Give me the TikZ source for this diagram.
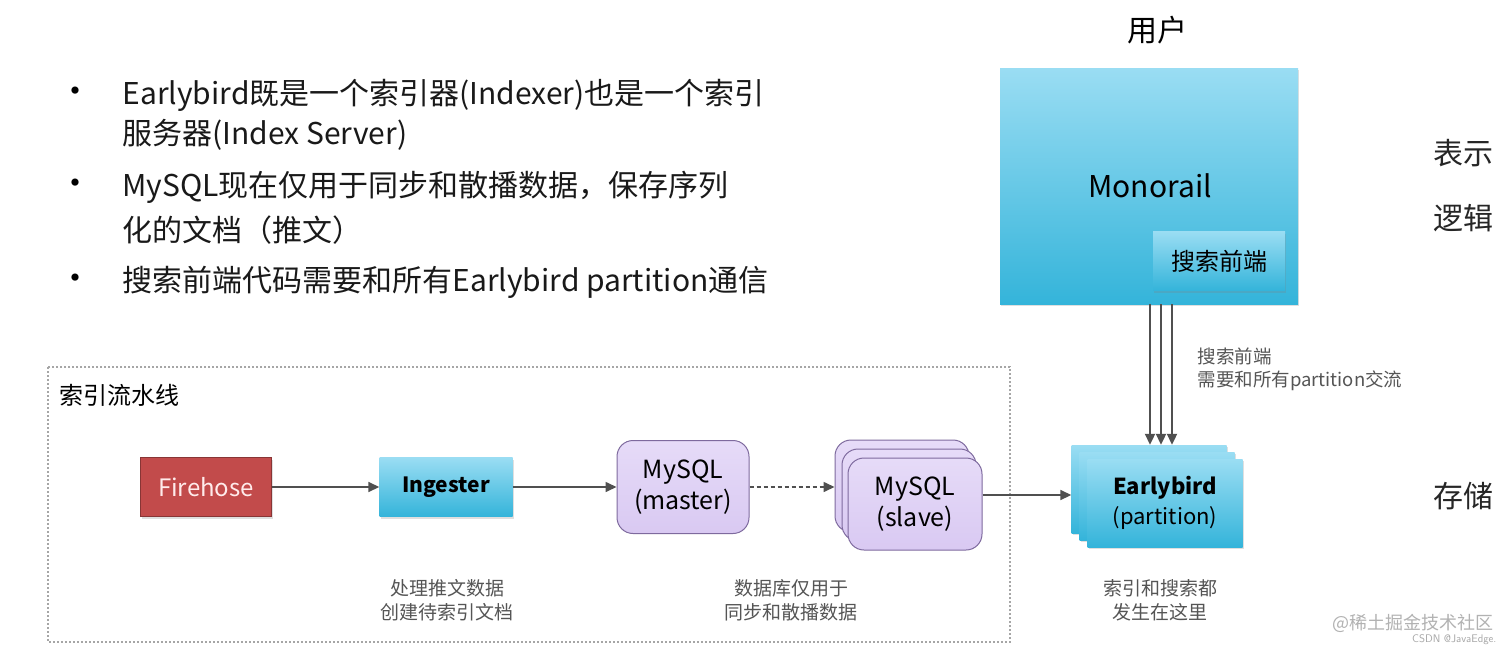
\documentclass[tikz,border=0pt]{standalone}
\usepackage{fontspec}
\setmainfont{Noto Sans CJK SC}
\usetikzlibrary{arrows.meta,shadows,positioning}
\definecolor{bluetop}{HTML}{9ADDF3}
\definecolor{bluebot}{HTML}{34B4DA}
\definecolor{firered}{HTML}{C24B4B}
\definecolor{lav}{HTML}{D9C9F2}
\definecolor{lavtop}{HTML}{E6DBF8}
\definecolor{lavedge}{HTML}{7E6A9E}
\definecolor{arrgray}{HTML}{505050}
\definecolor{capgray}{HTML}{555555}
\tikzset{
  fs/.style={font=\linespread{1.25}\fontsize{#1}{#1}\selectfont},
  bluebox/.style={draw=none, top color=bluetop, bottom color=bluebot, drop shadow={opacity=0.25,shadow xshift=1pt,shadow yshift=-2pt}},
  lavbox/.style={draw=lavedge, line width=1pt, rounded corners=16pt, top color=lavtop, bottom color=lav, align=center},
  flow/.style={draw=arrgray, line width=1.6pt, -{Triangle[length=11pt,width=10pt]}},
  caption/.style={fs=19, text=capgray, align=center},
  side/.style={fs=30, text=black!85},
  bullettext/.style={fs=30, anchor=west, text=black!90},
}
\begin{document}
\begin{tikzpicture}[x=1pt,y=-1pt]
\useasboundingbox (0,0) rectangle (1512,653);
\fill[white] (0,0) rectangle (1512,653);

% bullets
\foreach \yy/\nm in {95/d1,187/d2,282/d3} \node[fs=34] (\nm) at (75,\yy) {•};
\node[bullettext] (b1a) at (119,95) {Earlybird既是一个索引器(Indexer)也是一个索引};
\node[bullettext] (b1b) at (119,135) {服务器(Index Server)};
\node[bullettext] (b2a) at (119,187) {MySQL现在仅用于同步和散播数据，保存序列};
\node[bullettext] (b2b) at (119,230) {化的文档（推文）};
\node[bullettext] (b3) at (119,282) {搜索前端代码需要和所有Earlybird partition通信};

% user / monorail
\node[fs=30] (user) at (1157,30) {用户};
\node[bluebox, minimum width=298pt, minimum height=236pt, inner sep=0pt] (mono) at (1149,186) {};
\node[fs=30] (monotext) at (1150,186) {Monorail};
\node[bluebox, minimum width=132pt, minimum height=59pt, fs=24] (front) at (1219,261) {搜索前端};

% side labels
\node[side] (s1) at (1463,153) {表示};
\node[side] (s2) at (1463,218) {逻辑};
\node[side] (s3) at (1463,496) {存储};

% pipeline frame
\draw[gray!70, line width=1.3pt, dash pattern=on 2pt off 2pt] (48,367) rectangle (1010,642);
\node[fs=24, anchor=west] (pipe) at (56,395) {索引流水线};

% Firehose
\node[draw=firered!70!black, line width=0.6pt, fill=firered, minimum width=131pt, minimum height=59pt, text=white!92!red, fs=24, drop shadow={opacity=0.25,shadow xshift=1pt,shadow yshift=-2pt}] (fire) at (206,487) {Firehose};
% Ingester
\node[bluebox, minimum width=133pt, minimum height=59pt, fs=21] (ing) at (446,487) {\bfseries Ingester};
% MySQL master
\node[lavbox, minimum width=132pt, minimum height=93pt, fs=25] (master) at (683,487) {MySQL\\[-1pt](master)};
% MySQL slave stack
\node[lavbox, minimum width=134pt, minimum height=92pt] (sl3) at (902,486) {};
\node[lavbox, minimum width=134pt, minimum height=92pt] (sl2) at (909,495) {};
\node[lavbox, minimum width=134pt, minimum height=92pt, fs=25] (slave) at (915,504) {MySQL\\[-1pt](slave)};

% Earlybird stack
\node[bluebox, minimum width=155pt, minimum height=88pt] (eb3) at (1149,489) {};
\node[bluebox, minimum width=155pt, minimum height=88pt] (eb2) at (1157,496) {};
\node[bluebox, minimum width=155pt, minimum height=88pt, fs=22, align=center] (eb) at (1165,503) {\textbf{Earlybird}\\[2pt](partition)};

% arrows
\draw[flow] (fire.east) -- (ing.west);
\draw[flow] (ing.east) -- (master.west);
\draw[flow, dash pattern=on 4pt off 3pt] (master.east) -- (sl3.west |- master.east);
\draw[flow] (slave.east |- 0,495) -- (eb3.west |- 0,495);
\coordinate (a1) at (1150,304);
\coordinate (a2) at (1161,304);
\coordinate (a3) at (1172,304);
\foreach \c in {a1,a2,a3} \draw[flow, line width=2pt] (\c) -- (\c |- eb3.north);

% captions
\node[fs=18.5, text=capgray, align=left, anchor=west] (flab) at (1194,369) {搜索前端\\需要和所有partition交流};
\node[caption] (c1) at (447,600) {处理推文数据\\创建待索引文档};
\node[caption] (c2) at (791,600) {数据库仅用于\\同步和散播数据};
\node[caption] (c3) at (1160,600) {索引和搜索都\\发生在这里};

% watermark
\node[fs=18, text=gray!60, anchor=east] (wm1) at (1497,623) {@稀土掘金技术社区};
\node[font=\fontsize{11}{13}\selectfont\sffamily, text=gray!70, anchor=east] (wm2) at (1500,640) {CSDN @JavaEdge.};
\end{tikzpicture}
\end{document}
